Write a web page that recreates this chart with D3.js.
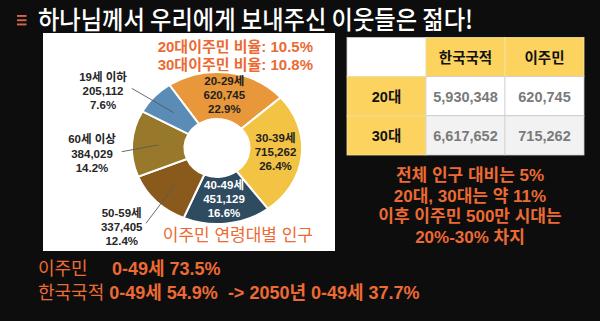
<!DOCTYPE html>
<html><head><meta charset="utf-8">
<script src="https://cdn.jsdelivr.net/npm/d3@7"></script>
<style>
html,body{margin:0;padding:0;background:#0d0d0d;}
svg{display:block;}
text{font-family:"Liberation Sans","Noto Sans CJK KR",sans-serif;white-space:pre;}
</style></head>
<body>
<script>
// ---- data ----
const title = "하나님께서 우리에게 보내주신 이웃들은 젊다!";
const ageGroups = ["20-29세", "30-39세", "40-49세", "50-59세", "60세 이상", "19세 이하"];
const ageValues = [620745, 715262, 451129, 337405, 384029, 205112];
const agePercents = ["22.9%", "26.4%", "16.6%", "12.4%", "14.2%", "7.6%"];
const ageColors = ["#E8983A", "#F3C443", "#2F4B60", "#8A5A1D", "#98792B", "#5B8CB6"];
const ratioNotes = ["20대이주민 비율: 10.5%", "30대이주민 비율: 10.8%"];
const chartCaption = "이주민 연령대별 인구";
const tableHeaders = ["", "한국국적", "이주민"];
const tableRows = ["20대", "30대"];
const koreanPop = [5930348, 6617652];
const migrantPop = [620745, 715262];
const rightNotes = ["전체 인구 대비는 5%", "20대, 30대는 약 11%", "이후 이주민 500만 시대는", "20%-30% 차지"];
const bottomLabels = ["이주민", "한국국적"];
const bottomValues = ["0-49세 73.5%", "0-49세 54.9%  -> 2050년 0-49세 37.7%"];

const W = 600, H = 321;
const orange = "#EC6A33";
const svg = d3.select("body").append("svg").attr("width", W).attr("height", H);
svg.append("rect").attr("width", W).attr("height", H).attr("fill", "#0d0d0d");

// menu icon
svg.selectAll("rect.menu").data([15, 19.3, 23.5]).join("rect")
  .attr("x", 17).attr("y", d => d).attr("width", 9.5).attr("height", 1.9).attr("fill", "#D8644B");

// title
svg.append("text").attr("x", 38).attr("y", 29).attr("fill", "#fff")
  .attr("font-size", 25.5).attr("font-weight", 500).attr("textLength", 435).attr("lengthAdjust", "spacingAndGlyphs")
  .style("font-family", "'Noto Sans CJK KR',sans-serif").text(title);

// white panel
svg.append("rect").attr("x", 43).attr("y", 33).attr("width", 292).attr("height", 218).attr("fill", "#fff");

// ratio notes
svg.selectAll("text.ratio").data(ratioNotes).join("text")
  .attr("x", 313).attr("y", (d, i) => 52 + i * 18).attr("text-anchor", "end")
  .attr("font-size", 15).attr("font-weight", "bold").attr("fill", orange).text(d => d);

// donut
const cx = 217, cy = 148, rOuter = 76, rInner = 29, sx = 1.12;
const pie = d3.pie().sort(null).startAngle(-34 * Math.PI / 180).endAngle((-34 + 360) * Math.PI / 180);
const arcs = pie(ageValues);
const arc = d3.arc().innerRadius(rInner).outerRadius(rOuter);
const labelArc = d3.arc().innerRadius((rInner + rOuter) / 2).outerRadius((rInner + rOuter) / 2);
const g = svg.append("g").attr("transform", `translate(${cx},${cy}) scale(${sx},1)`);
g.selectAll("path").data(arcs).join("path")
  .attr("d", arc).attr("fill", (d, i) => ageColors[i])
  .attr("stroke", "#fff").attr("stroke-width", 2).attr("vector-effect", "non-scaling-stroke");

const fmt = d3.format(",");
const labelFor = i => [ageGroups[i], fmt(ageValues[i]), agePercents[i]];
const toScreen = c => [cx + c[0] * sx, cy + c[1]];

// inside labels (first three slices)
[0, 1, 2].forEach(i => {
  const [x, y] = toScreen(labelArc.centroid(arcs[i]));
  const lines = labelFor(i);
  svg.append("g").selectAll("text").data(lines).join("text")
    .attr("x", x).attr("y", (d, k) => y - 11 + k * 14).attr("text-anchor", "middle")
    .attr("font-size", 11.5).attr("font-weight", "bold")
    .attr("fill", i === 2 ? "#ffffff" : "#1f1f1f").text(d => d);
});

// outside labels with leader lines
const outside = [
  {i: 5, tx: 103, ty: 80.5, lx: 131.7, ly: 88.3},
  {i: 4, tx: 92, ty: 143.3, lx: 121.7, ly: 151.7},
  {i: 3, tx: 121.7, ty: 216.7, lx: 146, ly: 223.3}
];
outside.forEach(o => {
  const [x, y] = toScreen(labelArc.centroid(arcs[o.i]));
  svg.append("line").attr("x1", o.lx).attr("y1", o.ly).attr("x2", x).attr("y2", y)
    .attr("stroke", "#595959").attr("stroke-width", 0.9);
  svg.append("g").selectAll("text").data(labelFor(o.i)).join("text")
    .attr("x", o.tx).attr("y", (d, k) => o.ty + k * 14.3).attr("text-anchor", "middle")
    .attr("font-size", 11.5).attr("font-weight", "bold").attr("fill", "#262626").text(d => d);
});

// caption
svg.append("text").attr("x", 313).attr("y", 241).attr("text-anchor", "end")
  .attr("font-size", 17).attr("fill", orange).text(chartCaption);

// table
const tx = d3.scaleBand().domain([0, 1, 2]).range([347, 584]);
const ty = d3.scaleBand().domain([0, 1, 2]).range([37.5, 155]);
const yellow = "#FBD35E";
const cells = [];
tableHeaders.forEach((h, c) => cells.push({r: 0, c, text: h, fill: c === 0 ? "#fff" : yellow, color: "#111"}));
tableRows.forEach((lab, r) => {
  cells.push({r: r + 1, c: 0, text: lab, fill: yellow, color: "#111"});
  cells.push({r: r + 1, c: 1, text: fmt(koreanPop[r]), fill: r === 0 ? "#fff" : "#F2F2F2", color: "#7a7a7a"});
  cells.push({r: r + 1, c: 2, text: fmt(migrantPop[r]), fill: r === 0 ? "#fff" : "#F2F2F2", color: "#7a7a7a"});
});
const tg = svg.append("g");
tg.selectAll("rect").data(cells).join("rect")
  .attr("x", d => tx(d.c)).attr("y", d => ty(d.r)).attr("width", tx.bandwidth()).attr("height", ty.bandwidth())
  .attr("fill", d => d.fill)
  .attr("stroke", d => d.fill === yellow ? "#F6E3A8" : "#CFCFCF").attr("stroke-width", 0.8);
tg.selectAll("text").data(cells.filter(d => d.text)).join("text")
  .attr("x", d => tx(d.c) + tx.bandwidth() / 2).attr("y", d => ty(d.r) + ty.bandwidth() / 2 + 5.5)
  .attr("text-anchor", "middle").attr("font-size", d => d.r === 0 ? 14.5 : 14.5).attr("font-weight", "bold")
  .attr("fill", d => d.color).text(d => d.text);

// right notes
svg.selectAll("text.rnote").data(rightNotes).join("text")
  .attr("x", 470).attr("y", (d, i) => 181 + i * 20.6).attr("text-anchor", "middle")
  .attr("font-size", 17).attr("font-weight", "bold").attr("fill", orange).text(d => d);

// bottom lines
bottomLabels.forEach((lab, i) => {
  const t = svg.append("text").attr("x", 38).attr("y", 275 + i * 24).attr("font-size", 18).attr("fill", orange);
  t.append("tspan").text(lab);
  if (i === 0) t.append("tspan").attr("x", 112).attr("font-weight", "bold").text(bottomValues[i]);
  else t.append("tspan").attr("font-weight", "bold").text(" " + bottomValues[i]);
});
</script>
</body></html>
